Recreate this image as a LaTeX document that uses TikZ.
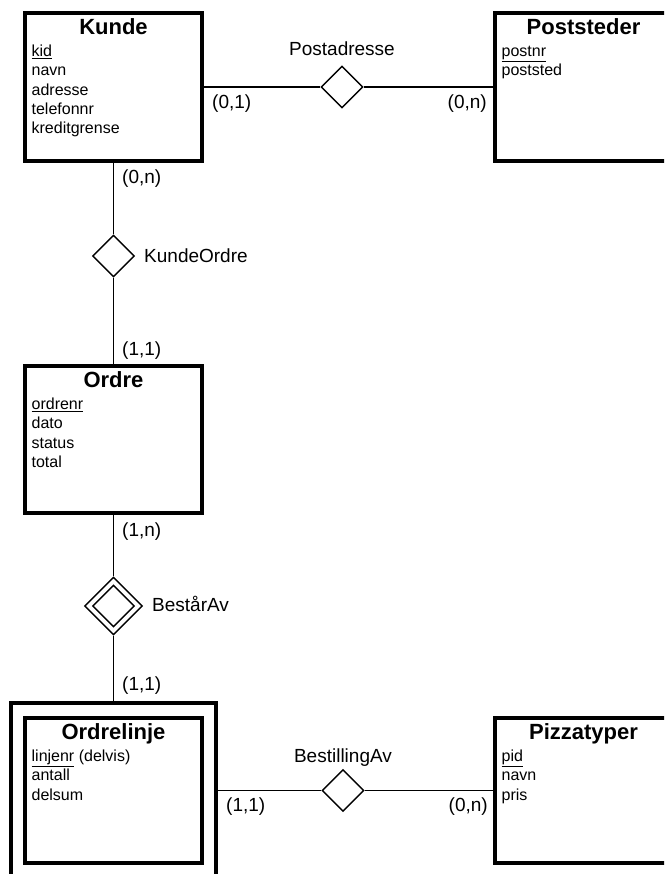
\documentclass[tikz,border=0pt]{standalone}
\usepackage{fontspec}
\setmainfont{Liberation Sans}
\usetikzlibrary{shapes.geometric,calc}
\begin{document}
\begin{tikzpicture}[x=1pt,y=-1pt,
  entity/.style={draw,line width=3.1pt,rectangle,inner sep=0pt,minimum width=177pt},
  rel/.style={draw,line width=1.4pt,diamond,aspect=1,inner sep=0pt,minimum width=42pt,minimum height=42pt,fill=white},
  conn/.style={line width=1.3pt},
  etitle/.style={font=\fontsize{22}{26}\selectfont\bfseries,anchor=base,inner sep=0pt},
  attr/.style={font=\fontsize{16}{19}\selectfont,anchor=base west,inner sep=0pt},
  lbl/.style={font=\fontsize{19}{22}\selectfont,inner sep=0pt}]
\clip (0,0) rectangle (664,874);
\fill[white] (0,0) rectangle (664,874);

% entities
\node[entity,minimum height=148pt] (kunde) at (113.5,87) {};
\node[entity,minimum height=148pt] (post) at (583.5,87) {};
\node[entity,minimum height=147pt] (ordre) at (113.5,439.5) {};
\node[entity,minimum width=205pt,minimum height=197pt] (olo) at (113.5,801.5) {};
\node[entity,minimum height=145pt] (oli) at (113.5,790.5) {};
\node[entity,minimum height=145pt] (pizza) at (583.5,790.5) {};

% relationships
\node[rel] (pa) at (342,87) {};
\node[rel] (ko) at (113.5,256) {};
\node[rel,minimum width=58pt,minimum height=58pt] (ba) at (113.5,606) {};
\node[rel] (bain) at (ba) {};
\node[rel] (bo) at (343,790.5) {};

% connectors
\draw[conn] (kunde.east) -- (pa.west);
\draw[conn] (pa.east) -- (post.west);
\draw[conn] (kunde.south) -- (ko.north);
\draw[conn] (ko.south) -- (ordre.north);
\draw[conn] (ordre.south) -- (ba.north);
\draw[conn] (ba.south) -- (olo.north);
\draw[conn] (olo.east |- oli.east) -- (bo.west);
\draw[conn] (bo.east) -- (pizza.west);

% titles
\node[etitle] (kunde-t) at ([yshift=-23.5pt]kunde.north) {Kunde};
\node[etitle] (post-t) at ([yshift=-23.5pt]post.north) {Poststeder};
\node[etitle] (ordre-t) at ([yshift=-23.5pt]ordre.north) {Ordre};
\node[etitle] (oli-t) at ([yshift=-23.5pt]oli.north) {Ordrelinje};
\node[etitle] (pizza-t) at ([yshift=-23.5pt]pizza.north) {Pizzatyper};

% attributes
\foreach \t [count=\i] in {\underline{kid},navn,adresse,telefonnr,kreditgrense}
  \node[attr] (kunde-a\i) at ([xshift=8pt,yshift=-45pt-19.3pt*(\i-1)]kunde.north west) {\t};
\foreach \t [count=\i] in {\underline{postnr},poststed}
  \node[attr] (post-a\i) at ([xshift=8pt,yshift=-45pt-19.3pt*(\i-1)]post.north west) {\t};
\foreach \t [count=\i] in {\underline{ordrenr},dato,status,total}
  \node[attr] (ordre-a\i) at ([xshift=8pt,yshift=-45pt-19.3pt*(\i-1)]ordre.north west) {\t};
\foreach \t [count=\i] in {\underline{linjenr} (delvis),antall,delsum}
  \node[attr] (oli-a\i) at ([xshift=8pt,yshift=-45pt-19.3pt*(\i-1)]oli.north west) {\t};
\foreach \t [count=\i] in {\underline{pid},navn,pris}
  \node[attr] (pizza-a\i) at ([xshift=8pt,yshift=-45pt-19.3pt*(\i-1)]pizza.north west) {\t};

% relationship labels
\node[lbl,anchor=base] (pa-l) at (342,56) {Postadresse};
\node[lbl,anchor=base west] (ko-l) at (144,262.7) {KundeOrdre};
\node[lbl,anchor=base west] (ba-l) at (152,611.7) {BestårAv};
\node[lbl,anchor=base] (bo-l) at (343,762.7) {BestillingAv};

% cardinalities
\node[lbl,anchor=base west] (c1) at (212,109) {(0,1)};
\node[lbl,anchor=base east] (c2) at (487,109) {(0,n)};
\node[lbl,anchor=base west] (c3) at (122,183.3) {(0,n)};
\node[lbl,anchor=base west] (c4) at (122,355) {(1,1)};
\node[lbl,anchor=base west] (c5) at (122,536.5) {(1,n)};
\node[lbl,anchor=base west] (c6) at (122,690) {(1,1)};
\node[lbl,anchor=base west] (c7) at (226,811.7) {(1,1)};
\node[lbl,anchor=base east] (c8) at (488,811.7) {(0,n)};
\end{tikzpicture}
\end{document}
